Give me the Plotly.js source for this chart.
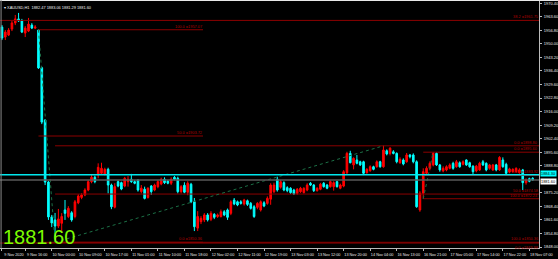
<!DOCTYPE html>
<html><head><meta charset="utf-8">
<script src="https://cdn.plot.ly/plotly-3.0.1.min.js"></script>
<style>html,body{margin:0;padding:0;background:#000;}#chart{width:558px;height:259px;}</style>
</head><body><div id="chart"></div>
<script>
// XAUUSD H1 bars (index = bar number)
const open = [
1958.4,1953.4,1954.4,1957.4,1960.5,1962.5,1961.5,1955.4,1956.4,1959.4,
1957.9,1956.9,1938.0,1911.7,1880.6,1863.1,1861.6,1858.5,1859.9,1866.6,
1863.3,1865.2,1863.3,1870.2,1872.9,1874.1,1876.6,1880.8,1883.0,1884.1,
1885.0,1884.6,1887.0,1879.1,1868.0,1880.8,1880.3,1878.6,1880.8,1882.0,
1880.8,1881.6,1875.8,1877.0,1872.9,1878.6,1876.6,1878.3,1879.6,1882.0,
1881.1,1880.0,1883.0,1882.5,1875.8,1879.0,1875.5,1879.5,1870.7,1857.5,
1860.7,1861.6,1864.1,1861.9,1864.4,1863.3,1863.3,1865.7,1866.6,1864.9,
1871.6,1870.7,1870.7,1869.6,1871.2,1869.9,1868.2,1867.9,1866.6,1870.2,
1869.9,1872.0,1875.8,1882.0,1878.0,1880.3,1877.8,1877.5,1876.6,1874.9,
1875.8,1875.3,1876.6,1880.0,1879.1,1876.3,1877.0,1880.0,1879.1,1878.3,
1878.3,1880.8,1877.5,1878.6,1885.3,1895.0,1889.2,1891.7,1890.8,1890.8,
1885.3,1886.3,1888.3,1888.3,1890.8,1888.3,1896.3,1895.0,1895.8,1895.0,
1890.3,1891.7,1890.8,1894.2,1894.2,1890.8,1866.6,1875.0,1885.0,1887.5,
1889.2,1895.0,1889.2,1886.2,1886.7,1887.5,1890.0,1888.3,1890.3,1889.5,
1891.7,1890.3,1888.6,1886.2,1886.7,1890.8,1890.0,1887.5,1886.7,1889.2,
1886.7,1891.7,1889.5,1885.6,1885.8,1885.8,1885.3,1886.7,1880.3,1882.3,
1882.47];
const high = [
1959.4,1956.9,1957.9,1961.5,1964.5,1965.5,1962.5,1958.9,1963.0,1960.4,
1959.4,1957.07,1938.5,1912.2,1881.1,1864.1,1865.1,1867.1,1865.0,1871.6,
1868.5,1866.0,1871.6,1874.5,1875.0,1877.5,1881.6,1884.2,1883.8,1890.0,
1890.3,1887.8,1887.8,1879.8,1880.0,1881.5,1880.8,1883.2,1883.6,1884.7,
1881.5,1882.0,1879.1,1878.3,1878.0,1879.1,1879.8,1881.6,1882.8,1883.0,
1881.6,1883.0,1883.6,1883.3,1879.1,1880.5,1881.0,1880.2,1872.6,1866.0,
1863.5,1865.0,1865.0,1866.0,1865.0,1864.8,1866.8,1866.5,1867.3,1871.5,
1872.6,1871.3,1871.5,1872.2,1871.8,1870.6,1869.0,1870.5,1871.4,1871.0,
1873.4,1880.0,1880.3,1883.3,1881.6,1881.0,1878.5,1878.0,1877.2,1877.6,
1878.2,1878.0,1880.0,1880.6,1879.6,1878.0,1880.2,1880.6,1879.6,1881.5,
1881.0,1881.3,1879.8,1886.6,1895.8,1896.3,1893.0,1894.2,1891.3,1891.3,
1887.6,1889.0,1888.8,1891.5,1891.3,1898.80,1897.0,1898.1,1896.6,1895.5,
1893.0,1892.5,1895.2,1894.7,1895.0,1891.5,1876.0,1887.5,1888.5,1891.0,
1895.6,1895.5,1889.7,1888.5,1889.0,1890.0,1890.8,1891.7,1891.0,1891.5,
1892.0,1890.8,1889.0,1889.2,1890.8,1891.7,1890.5,1889.7,1889.7,1889.7,
1893.6,1893.0,1890.3,1887.8,1887.5,1888.0,1887.5,1887.2,1882.5,1882.8,
1883.06];
const low = [
1951.9,1951.9,1953.9,1956.4,1959.4,1961.0,1955.4,1953.4,1955.9,1957.4,
1957.4,1937.4,1909.7,1879.1,1861.6,1858.0,1850.36,1857.5,1855.0,1861.6,
1862.5,1860.7,1862.4,1869.5,1872.0,1873.5,1876.0,1880.0,1880.0,1882.5,
1884.5,1884.0,1874.9,1867.0,1867.4,1878.0,1876.5,1878.0,1878.3,1880.2,
1879.5,1875.8,1874.9,1871.9,1872.3,1874.1,1876.0,1877.5,1879.0,1879.6,
1879.5,1879.1,1881.5,1874.9,1874.9,1875.0,1874.0,1870.0,1856.0,1856.0,
1859.5,1860.5,1860.8,1861.0,1862.0,1862.6,1862.8,1863.5,1861.6,1864.0,
1869.0,1868.5,1869.3,1868.8,1868.6,1866.8,1862.6,1867.0,1865.8,1868.0,
1869.2,1869.2,1875.0,1875.8,1877.3,1876.0,1875.5,1874.6,1874.1,1874.2,
1875.2,1874.8,1876.0,1878.6,1875.6,1875.8,1876.5,1877.8,1877.0,1877.8,
1876.3,1877.8,1877.0,1878.0,1884.6,1890.0,1887.0,1889.5,1888.7,1884.1,
1884.8,1885.8,1886.5,1887.8,1887.8,1887.8,1894.0,1894.0,1894.5,1890.0,
1889.8,1889.0,1890.3,1892.5,1890.0,1867.7,1865.7,1872.24,1884.5,1886.5,
1888.5,1888.7,1885.8,1885.5,1886.0,1887.0,1886.8,1887.8,1887.8,1889.0,
1888.7,1887.8,1884.6,1885.5,1886.2,1888.7,1886.0,1886.8,1886.2,1886.0,
1886.2,1887.8,1884.2,1885.0,1885.3,1885.3,1884.8,1876.6,1879.3,1880.5,
1881.29];
const close = [
1952.9,1955.9,1956.9,1960.5,1962.5,1961.5,1955.9,1957.9,1959.9,1957.9,
1958.4,1937.9,1910.7,1880.6,1863.1,1860.1,1858.5,1862.1,1863.3,1864.9,
1867.4,1861.6,1870.7,1873.6,1874.1,1876.6,1880.8,1883.0,1880.8,1888.0,
1887.5,1887.0,1879.1,1868.2,1878.3,1878.6,1877.1,1882.5,1882.0,1880.8,
1880.0,1876.6,1877.5,1872.4,1877.5,1875.8,1879.1,1880.8,1882.0,1880.3,
1880.0,1882.0,1882.0,1875.8,1878.3,1875.5,1880.0,1870.7,1858.2,1863.3,
1862.4,1864.1,1861.6,1864.9,1862.9,1864.1,1865.7,1864.1,1862.9,1870.7,
1869.6,1869.1,1869.9,1871.6,1869.4,1867.4,1863.3,1869.9,1870.7,1868.6,
1872.4,1879.1,1879.1,1876.6,1880.8,1876.6,1876.3,1875.3,1874.6,1877.0,
1877.5,1877.5,1879.1,1879.1,1876.3,1877.5,1879.5,1878.3,1877.5,1880.8,
1880.3,1878.3,1879.1,1885.8,1895.0,1890.3,1892.5,1890.0,1889.2,1885.0,
1887.0,1888.3,1887.0,1890.8,1888.3,1896.7,1894.7,1897.6,1895.0,1890.8,
1892.0,1889.7,1894.2,1893.3,1890.8,1868.2,1875.0,1885.8,1887.5,1890.0,
1895.0,1889.2,1886.7,1887.5,1888.3,1889.2,1887.5,1890.8,1888.3,1890.8,
1889.2,1888.3,1885.8,1888.6,1890.0,1889.2,1886.7,1889.2,1889.2,1886.7,
1893.0,1888.3,1885.0,1887.2,1887.0,1887.5,1886.7,1880.3,1881.6,1881.0,
1881.60];

const timeTickIdx = [0,7,15,23,31,39,47,55,63,71,79,87,95,103,111,119,127,135,143,151,159];
const timeLabels = ["9 Nov 2020","9 Nov 16:00","10 Nov 00:00","10 Nov 09:00","10 Nov 17:00",
  "11 Nov 01:00","11 Nov 10:00","11 Nov 18:00","12 Nov 02:00","12 Nov 11:00","12 Nov 19:00",
  "13 Nov 03:00","13 Nov 12:00","13 Nov 20:00","14 Nov 04:00","16 Nov 13:00","16 Nov 21:00",
  "17 Nov 05:00","17 Nov 14:00","17 Nov 22:00","18 Nov 07:00"];
// price-scale labels (1882.00 is hidden under the bid box in the reference)
const priceTicks = [1848.00,1854.80,1861.60,1868.40,1875.20,1888.80,1895.60,1902.40,1909.20,
  1916.00,1922.80,1929.60,1936.40,1943.20,1950.00,1956.80,1963.60,1970.40];

const symbolName = "XAUUSD,H1";
const bidPrice = 1881.60;
const hLinePrice = 1884.30;

// Fibonacci objects: anchor bars and levels
const fib1Bars = [11, 16];   const fib1End = 60.6;
const fib1Levels = [1957.07, 1903.72, 1850.36]; const fib1Names = ["100.0","50.0","0.0"];
const fib2Bars = [16, 115];
const fib2Levels = [1898.80, 1874.58, 1850.36]; const fib2Names = ["0.0","50.0","100.0"];
const fib3Bars = [127, 130];
const fib3Levels = [1895.60, 1883.92, 1872.24]; const fib3Names = ["0.0","50.0","100.0"];
const fib4Levels = [1961.75, 1849.98]; const fib4Names = ["38.2","0.0"];

const X0 = -0.6, X1 = 161.9;
const idx = open.map((_, i) => i);
const FONT = "Liberation Sans, Arial, sans-serif";
const FIBRED = "#8b0000", FIBTXT = "#b00000";

const trace = {
  type: 'candlestick', x: idx, open: open, high: high, low: low, close: close,
  increasing: {line: {color: '#ff0000', width: 1}, fillcolor: '#ff0000'},
  decreasing: {line: {color: '#00ffff', width: 1}, fillcolor: '#00ffff'},
  hoverinfo: 'skip', showlegend: false
};

const shapes = [];
const annotations = [];
function fibSet(levels, names, xs, xe, labelX, below) {
  levels.forEach((lv, k) => {
    shapes.push({type:'line', xref:'x', yref:'y', x0:xs, x1:xe, y0:lv, y1:lv,
      line:{color:FIBRED, width:1}});
    const under = below && k === levels.length - 1;
    annotations.push({xref:'x', yref:'y', x:labelX, y:lv, xanchor:'right', yanchor: under ? 'top' : 'bottom',
      text: names[k] + " =" + lv.toFixed(2), showarrow:false, borderpad:0,
      font:{family:FONT, size:3.9, color:FIBTXT}, yshift: under ? -0.5 : 0});
  });
}
fibSet(fib1Levels, fib1Names, fib1Bars[0], fib1End, fib1End, false);
fibSet(fib2Levels, fib2Names, fib2Bars[0], X1, X1, false);
fibSet(fib3Levels, fib3Names, fib3Bars[0], X1, X1, false);
fibSet(fib4Levels, fib4Names, X0, X1, X1, true);
// diagonals
[[fib1Bars, fib1Levels[0], fib1Levels[2]], [fib2Bars, fib2Levels[2], fib2Levels[0]], [fib3Bars, fib3Levels[2], fib3Levels[0]]]
 .forEach(d => shapes.push({type:'line', xref:'x', yref:'y', x0:d[0][0], x1:d[0][1], y0:d[1], y1:d[2],
   line:{color:'#1c7046', width:1, dash:'dot'}}));

// horizontal line + bid line
shapes.push({type:'line', xref:'paper', yref:'y', x0:0, x1:1, y0:hLinePrice, y1:hLinePrice, line:{color:'#00e8ee', width:1.5}});
shapes.push({type:'line', xref:'paper', yref:'y', x0:0, x1:1, y0:bidPrice, y1:bidPrice, line:{color:'#5a5a5a', width:1.5}});
// window borders
shapes.push({type:'line', xref:'paper', yref:'paper', x0:0, x1:1.04, y0:1, y1:1, line:{color:'#e8e8e8', width:2}});
shapes.push({type:'line', xref:'paper', yref:'paper', x0:0.002, x1:0.002, y0:0, y1:1, line:{color:'#8a8a8a', width:1}});

annotations.push({xref:'paper', yref:'y', x:1, y:hLinePrice, xanchor:'left', yanchor:'middle', xshift:0.5, yshift:1.5,
  text: hLinePrice.toFixed(2), showarrow:false, bgcolor:'#00ffff', borderpad:0,
  font:{family:FONT, size:3.9, color:'#000'}});
annotations.push({xref:'paper', yref:'y', x:1, y:bidPrice, xanchor:'left', yanchor:'middle', xshift:0.5, yshift:-1,
  text: bidPrice.toFixed(2), showarrow:false, bgcolor:'#ffffff', borderpad:0,
  font:{family:FONT, size:3.9, color:'#000'}});
annotations.push({xref:'paper', yref:'paper', x:0, y:0, xanchor:'left', yanchor:'bottom', xshift:1, yshift:-2,
  text: bidPrice.toFixed(2), showarrow:false, font:{family:FONT, size:20, color:'#7cfc00'}});
annotations.push({xref:'paper', yref:'paper', x:0, y:1, xanchor:'left', yanchor:'top', xshift:2, yshift:-3,
  text: "▾ " + symbolName + "  " + open[160].toFixed(2) + " " + high[160].toFixed(2) + " " + low[160].toFixed(2) + " " + close[160].toFixed(2),
  showarrow:false, font:{family:FONT, size:3.9, color:'#f0f0f0'}});

const layout = {
  width: 558, height: 259, margin: {l:0, r:19, t:0, b:11},
  paper_bgcolor: '#000', plot_bgcolor: '#000', showlegend: false,
  xaxis: {range:[X0, X1], tickvals: timeTickIdx, ticktext: timeLabels, ticks:'outside', ticklen:2,
    tickcolor:'#bbbbbb', tickfont:{family:FONT, size:3.8, color:'#e8e8e8'}, showline:true, linecolor:'#bbbbbb',
    linewidth:1, showgrid:false, zeroline:false, rangeslider:{visible:false}, ticklabelshift:12,
    ticklabelstandoff:0, fixedrange:true},
  yaxis: {side:'right', range:[1847.5, 1972.0], tickvals: priceTicks, tickformat:'.2f', ticks:'outside',
    ticklen:2, tickcolor:'#bbbbbb', tickfont:{family:FONT, size:4.0, color:'#e8e8e8'}, showline:true,
    linecolor:'#bbbbbb', showgrid:false, zeroline:false, ticklabelstandoff:1, fixedrange:true},
  shapes: shapes, annotations: annotations
};
Plotly.newPlot('chart', [trace], layout, {displayModeBar:false, staticPlot:true});
</script></body></html>
